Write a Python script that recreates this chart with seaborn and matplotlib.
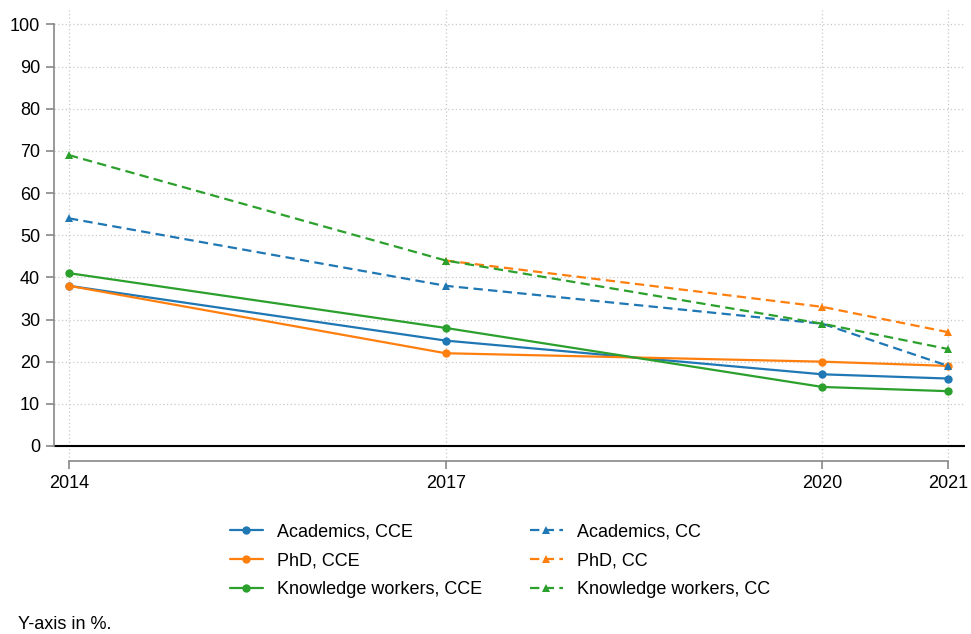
import numpy as np
import pandas as pd
import matplotlib
matplotlib.use("Agg")
import matplotlib.pyplot as plt
import seaborn as sns

years = [2014, 2017, 2020, 2021]
academics_cce = [38, 25, 17, 16]
phd_cce = [38, 22, 20, 19]
knowledge_cce = [41, 28, 14, 13]
academics_cc = [54, 38, 29, 19]
phd_cc = [np.nan, 44, 33, 27]
knowledge_cc = [69, 44, 29, 23]

series = [
    ("Academics, CCE", academics_cce),
    ("PhD, CCE", phd_cce),
    ("Knowledge workers, CCE", knowledge_cce),
    ("Academics, CC", academics_cc),
    ("PhD, CC", phd_cc),
    ("Knowledge workers, CC", knowledge_cc),
]

sns.set_style("white")
plt.rcParams['font.family'] = ['Liberation Sans', 'DejaVu Sans']
plt.rcParams['text.color'] = 'black'
plt.rcParams['xtick.labelcolor'] = 'black'
plt.rcParams['ytick.labelcolor'] = 'black'

colors = ["#1f77b4", "#ff7f0e", "#2ca02c"]

fig = plt.figure(figsize=(9.71, 6.34), dpi=100)
ax = fig.add_axes([0.0556, 0.2729, 0.9382, 0.7114])

for i, (name, vals) in enumerate(series):
    df = pd.DataFrame({"year": years, "value": vals}).dropna()
    cc = i >= 3
    sns.lineplot(data=df, x="year", y="value", ax=ax, color=colors[i % 3],
                 marker="^" if cc else "o", markersize=6, markeredgewidth=0,
                 linestyle=(0, (4.2, 2.4)) if cc else "-", linewidth=1.6,
                 label=name, zorder=3)

ax.set_xlim(2013.881, 2021.135)
ax.set_ylim(-3.56, 103.44)
ax.set_xticks(years)
ax.set_yticks(range(0, 101, 10))
ax.set_xlabel("")
ax.set_ylabel("")
ax.grid(True, color="#c8c8c8", linestyle=(0, (1, 2)), linewidth=0.9)
ax.axhline(0, color="black", linewidth=1.5, zorder=2)

for s in ["top", "right"]:
    ax.spines[s].set_visible(False)
ax.spines["left"].set_color("#888888")
ax.spines["left"].set_linewidth(1.2)
ax.spines["left"].set_bounds(0, 100)
ax.spines["bottom"].set_color("#888888")
ax.spines["bottom"].set_linewidth(1.2)
ax.spines["bottom"].set_bounds(2014, 2021)
ax.tick_params(axis="both", which="both", length=6, width=1.2, color="#888888",
               labelsize=13, left=True, bottom=True, pad=4, labelcolor="black")
ax.get_legend().remove()

handles, labels = ax.get_legend_handles_labels()
fig.legend(handles, labels, loc="upper center", bbox_to_anchor=(0.515, 0.2),
           ncol=2, frameon=False, fontsize=13, handlelength=1.85,
           handletextpad=0.8, columnspacing=2.6, labelspacing=0.65)

fig.text(0.019, 0.0142, "Y-axis in %.", fontsize=13, va="center")

fig.savefig("out.png", dpi=100)
